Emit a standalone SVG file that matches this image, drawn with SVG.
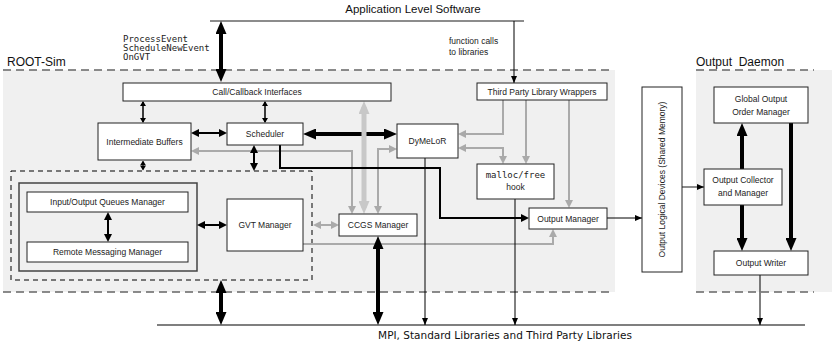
<svg xmlns="http://www.w3.org/2000/svg" width="832" height="345" viewBox="0 0 832 345">
<style>
.bx{fill:#fff;stroke:#222;stroke-width:1}
.t{font-family:"Liberation Sans",Arial,sans-serif;font-size:8.5px;fill:#222;text-anchor:middle}
.m{font-family:"DejaVu Sans Mono","Liberation Mono",monospace;font-size:9px;fill:#222}
.lbl{font-family:"Liberation Sans",Arial,sans-serif;font-size:12px;fill:#111}
.dash{stroke:#666;stroke-width:1.5;stroke-dasharray:8,5;fill:none}
.thin{stroke:#000;stroke-width:1;fill:none}
.med{stroke:#000;stroke-width:2;fill:none}
.sm{stroke:#000;stroke-width:1.5;fill:none}
.thick{stroke:#000;stroke-width:4;fill:none}
.g{stroke:#aaa;stroke-width:2;fill:none}
.G{stroke:#c8c8c8;stroke-width:5;fill:none}
</style>
<defs>
<marker id="mb" viewBox="0 0 7 6" refX="7" refY="3" markerWidth="7" markerHeight="6" markerUnits="userSpaceOnUse" orient="auto-start-reverse"><path d="M0,0L7,3L0,6z" fill="#000"/></marker>
<marker id="ms" viewBox="0 0 5 6" refX="4" refY="3" markerWidth="5" markerHeight="6" markerUnits="userSpaceOnUse" orient="auto-start-reverse"><path d="M0,0L5,3L0,6z" fill="#000"/></marker>
<marker id="mm" viewBox="0 0 8 8" refX="6" refY="4" markerWidth="8" markerHeight="8" markerUnits="userSpaceOnUse" orient="auto-start-reverse"><path d="M0,0L8,4L0,8z" fill="#000"/></marker>
<marker id="mB" viewBox="0 0 13 11" refX="8" refY="5.5" markerWidth="13" markerHeight="11" markerUnits="userSpaceOnUse" orient="auto-start-reverse"><path d="M0,0L13,5.5L0,11z" fill="#000"/></marker>
<marker id="mg" viewBox="0 0 8 8" refX="6" refY="4" markerWidth="8" markerHeight="8" markerUnits="userSpaceOnUse" orient="auto-start-reverse"><path d="M0,0L8,4L0,8z" fill="#aaa"/></marker>
<marker id="mG" viewBox="0 0 13 11" refX="7" refY="5.5" markerWidth="13" markerHeight="11" markerUnits="userSpaceOnUse" orient="auto-start-reverse"><path d="M0,0L13,5.5L0,11z" fill="#c8c8c8"/></marker>
</defs>

<g id="regions">
<rect x="3" y="70" width="612" height="222" fill="#f0f0f0"/>
<rect x="696" y="70" width="136" height="222" fill="#f0f0f0"/>
<line class="dash" x1="3" y1="70" x2="614" y2="70"/>
<line class="dash" x1="3" y1="292" x2="614" y2="292"/>
<line class="dash" x1="696" y1="70" x2="814" y2="70"/>
<line class="dash" x1="696" y1="292" x2="814" y2="292"/>
<text class="lbl" x="7" y="66">ROOT-Sim</text>
<text class="lbl" x="696" y="66" xml:space="preserve">Output  Daemon</text>
<rect x="11" y="171" width="301" height="109" fill="none" stroke="#000" stroke-width="1" stroke-dasharray="5,4"/>
<rect x="19" y="183" width="178" height="88" fill="none" stroke="#444" stroke-width="1.5"/>
</g>

<g id="app">
<line x1="210" y1="21" x2="524" y2="21" stroke="#666" stroke-width="1.5"/>
<text x="413" y="13" font-family="Liberation Sans,Arial,sans-serif" font-size="11.5" fill="#111" text-anchor="middle">Application Level Software</text>
<text class="m" x="123" y="41.5">ProcessEvent</text>
<text class="m" x="123" y="50.8">ScheduleNewEvent</text>
<text class="m" x="123" y="60.1">OnGVT</text>
<text x="449" y="44" font-family="Liberation Sans,Arial,sans-serif" font-size="8.5" fill="#222">function calls</text>
<text x="449" y="55" font-family="Liberation Sans,Arial,sans-serif" font-size="8.5" fill="#222">to libraries</text>
</g>

<g id="mpi">
<line x1="157" y1="325" x2="805" y2="325" stroke="#000" stroke-width="1.2"/>
<text x="505" y="339" font-family="DejaVu Sans,sans-serif" font-size="10.5" fill="#111" text-anchor="middle">MPI, Standard Libraries and Third Party Libraries</text>
</g>

<g id="connectors">
<line class="thick" x1="221" y1="26" x2="221" y2="77" marker-start="url(#mB)" marker-end="url(#mB)" stroke-width="3.5"/>
<line class="thin" x1="514" y1="21" x2="514" y2="83" marker-end="url(#mb)"/>
<line class="sm" x1="143" y1="102" x2="143" y2="122" marker-start="url(#ms)" marker-end="url(#ms)"/>
<line class="sm" x1="265" y1="102" x2="265" y2="122" marker-start="url(#ms)" marker-end="url(#ms)"/>
<line class="med" x1="193" y1="133" x2="225" y2="133" marker-start="url(#mm)" marker-end="url(#mm)"/>
<line class="thick" x1="308" y1="134" x2="392" y2="134" marker-start="url(#mB)" marker-end="url(#mB)"/>
<path class="g" d="M193,151H352V212" marker-start="url(#mg)" marker-end="url(#mg)"/>
<line class="G" x1="364" y1="107" x2="364" y2="208" marker-start="url(#mG)" marker-end="url(#mG)"/>
<path class="g" d="M395,149H378V212" marker-start="url(#mg)" marker-end="url(#mg)"/>
<line class="med" x1="254" y1="147" x2="254" y2="169" marker-start="url(#mm)" marker-end="url(#mm)"/>
<line x1="143" y1="161.5" x2="143" y2="169.5" stroke="#000" stroke-width="1" marker-start="url(#ms)" marker-end="url(#ms)"/>
<path class="med" d="M280,145V168H440V218H527" marker-end="url(#mm)"/>
<line class="med" x1="199" y1="225" x2="225" y2="225" marker-start="url(#mm)" marker-end="url(#mm)"/>
<line class="med" x1="108" y1="214" x2="108" y2="240" marker-start="url(#mm)" marker-end="url(#mm)"/>
<line class="g" x1="315" y1="225" x2="337" y2="225" marker-start="url(#mg)" marker-end="url(#mg)"/>
<path class="g" d="M303,244H553V231" marker-end="url(#mg)"/>
<line class="thick" x1="221" y1="285" x2="221" y2="320" marker-start="url(#mB)" marker-end="url(#mB)"/>
<line class="thick" x1="378" y1="241" x2="378" y2="320" marker-start="url(#mB)" marker-end="url(#mB)"/>
<line class="thin" x1="425" y1="158" x2="425" y2="325" marker-end="url(#mb)"/>
<line class="thin" x1="515" y1="199" x2="515" y2="325" marker-end="url(#mb)"/>
<path class="g" d="M503,100V134H460" marker-end="url(#mg)"/>
<path class="g" d="M460,148H503V162" marker-start="url(#mg)" marker-end="url(#mg)"/>
<line class="g" x1="526" y1="100" x2="526" y2="162" marker-end="url(#mg)"/>
<line class="g" x1="569" y1="100" x2="569" y2="206" marker-end="url(#mg)"/>
<line class="thin" x1="607" y1="218" x2="642" y2="218" marker-end="url(#mb)"/>
<line x1="682" y1="187" x2="704" y2="187" stroke="#666" stroke-width="1.5" marker-end="url(#mb)"/>
<line class="thick" x1="742" y1="169" x2="742" y2="128" marker-end="url(#mB)"/>
<line class="thick" x1="742" y1="205" x2="742" y2="246" marker-end="url(#mB)"/>
<line class="thick" x1="791" y1="123" x2="791" y2="246" marker-end="url(#mB)"/>
<line class="thin" x1="760" y1="275" x2="760" y2="325" marker-end="url(#mb)"/>
</g>

<g id="call"><rect class="bx" x="123" y="83" width="268" height="18"/><text class="t" x="257" y="95">Call/Callback Interfaces</text></g>
<g id="wrappers"><rect class="bx" x="477" y="83" width="130" height="17"/><text class="t" x="542" y="94.5">Third Party Library Wrappers</text></g>
<g id="ib"><rect class="bx" x="98" y="123" width="93" height="37"/><text class="t" x="144.5" y="144.5">Intermediate Buffers</text></g>
<g id="scheduler"><rect class="bx" x="227" y="123" width="76" height="22"/><text class="t" x="265" y="137">Scheduler</text></g>
<g id="dymelor"><rect class="bx" x="397" y="124" width="61" height="34"/><text class="t" x="427.5" y="144">DyMeLoR</text></g>
<g id="malloc"><rect class="bx" x="477" y="164" width="77" height="35"/><text class="m" x="515.5" y="178" text-anchor="middle" font-size="9.2">malloc/free</text><text class="t" x="515.5" y="190" font-size="9">hook</text></g>
<g id="ioq"><rect class="bx" x="27" y="192" width="161" height="20"/><text class="t" x="107.5" y="205">Input/Output Queues Manager</text></g>
<g id="rmm"><rect class="bx" x="27" y="242" width="161" height="20"/><text class="t" x="107.5" y="255">Remote Messaging Manager</text></g>
<g id="gvt"><rect class="bx" x="227" y="199" width="76" height="52"/><text class="t" x="265" y="228">GVT Manager</text></g>
<g id="ccgs"><rect class="bx" x="339" y="214" width="78" height="22"/><text class="t" x="378" y="228">CCGS Manager</text></g>
<g id="outmgr"><rect class="bx" x="529" y="208" width="78" height="21"/><text class="t" x="568" y="221.5">Output Manager</text></g>
<g id="old"><rect class="bx" x="642" y="87" width="40" height="185"/><text class="t" transform="translate(665,179.5) rotate(-90)" x="0" y="0">Output Logical Devices (Shared Memory)</text></g>
<g id="global"><rect class="bx" x="714" y="87" width="94" height="36"/><text class="t" x="761" y="102">Global Output</text><text class="t" x="761" y="115">Order Manager</text></g>
<g id="collector"><rect class="bx" x="704" y="169" width="78" height="36"/><text class="t" x="743" y="183">Output Collector</text><text class="t" x="743" y="196">and Manager</text></g>
<g id="writer"><rect class="bx" x="714" y="251" width="94" height="24"/><text class="t" x="761" y="266">Output Writer</text></g>
</svg>
